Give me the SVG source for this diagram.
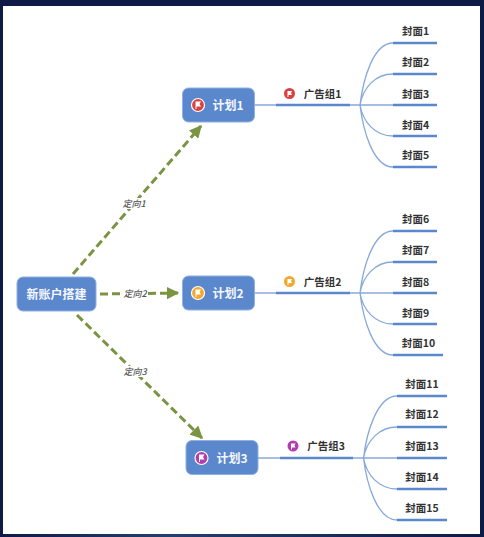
<svg xmlns="http://www.w3.org/2000/svg" width="484" height="537" viewBox="0 0 484 537">
<style>
.node{fill:#5b87cc;stroke:#8fb0e2;stroke-width:1}
.wt{font-family:"Noto Sans CJK SC","Liberation Sans",sans-serif;font-weight:700;fill:#f4f7fc;text-anchor:middle}
.lb{font-family:"Noto Sans CJK SC","Liberation Sans",sans-serif;font-weight:700;font-size:10.5px;fill:#333;text-anchor:middle}
.el{font-family:"Noto Sans CJK SC","Liberation Sans",sans-serif;font-style:italic;font-weight:500;font-size:9px;fill:#555;text-anchor:middle}
.dash{fill:none;stroke:#7a9444;stroke-width:3;stroke-dasharray:8 4}
.thin{fill:none;stroke:#86a9dc;stroke-width:1.3}
.bar{fill:none;stroke:#5b87cc;stroke-width:2.4}
.flag{fill:#fff}
</style>
<defs>
<linearGradient id="bg" x1="0" y1="0" x2="1" y2="0"><stop offset="0" stop-color="#0e1a46"/><stop offset="0.35" stop-color="#24406e"/><stop offset="1" stop-color="#0e1a46"/></linearGradient>
<marker id="ah" viewBox="0 0 10 10" refX="9" refY="5" markerWidth="4.2" markerHeight="4.2" orient="auto"><path d="M0 0L10 5L0 10Z" fill="#7a9444"/></marker>
</defs>
<rect width="484" height="537" fill="#0e1a46"/>
<rect y="530" width="484" height="7" fill="url(#bg)"/>
<rect x="3" y="6" width="477" height="528" fill="#fff"/>
<g id="connectors">
<path class="dash" marker-end="url(#ah)" d="M73 274L201 126"/>
<path class="dash" marker-end="url(#ah)" d="M100 294L178 293"/>
<path class="dash" marker-end="url(#ah)" d="M77 315L202 438"/>
<path class="thin" d="M254 105H276M350 105H393M360 105C363 80 373 43 393 43M360 105C363 88 375 74 393 74M360 105C363 122 375 136 393 136M360 105C363 130 373 167 393 167"/>
<path class="bar" d="M276 105H350M393 43H437M393 74H437M393 105H437M393 136H437M393 167H437"/>
<path class="thin" d="M254 293H276M350 293H393M360 293C363 268 373 231 393 231M360 293C363 276 375 262 393 262M360 293C363 310 375 324 393 324M360 293C363 318 373 355 393 355"/>
<path class="bar" d="M276 293H350M393 231H437M393 262H437M393 293H437M393 324H437M393 355H443"/>
<path class="thin" d="M258 458H280M353 458H397M363.500 458C366.500 433 377 396 397 396M363.500 458C366.500 441 379 427 397 427M363.500 458C366.500 475 379 489 397 489M363.500 458C366.500 483 377 520 397 520"/>
<path class="bar" d="M280 458H353M397 396H447M397 427H447M397 458H447M397 489H447M397 520H447"/>
</g>
<g id="edge-labels">
<rect x="122" y="198" width="25" height="11" fill="#fff"/><text class="el" x="134" y="207">定向1</text>
<rect x="122" y="288" width="25" height="11" fill="#fff"/><text class="el" x="135" y="297">定向2</text>
<rect x="123" y="366" width="25" height="11" fill="#fff"/><text class="el" x="135" y="375">定向3</text>
</g>
<g id="root"><rect class="node" x="17" y="277" width="79" height="34" rx="6"/><text class="wt" x="56.500" y="298.500" font-size="12">新账户搭建</text></g>
<g id="plan1"><rect class="node" x="182.500" y="88" width="72" height="34" rx="6"/><circle cx="198" cy="105" r="6.500" fill="#d9413f" stroke="#fff" stroke-width="1.200"/><path class="flag" d="M195.500 101.500H201L199.500 104L201 106.500H196.500V109H195.500Z"/><text class="wt" x="228" y="109.500" font-size="12">计划1</text></g>
<g id="plan2"><rect class="node" x="182.500" y="276" width="72" height="34" rx="6"/><circle cx="198" cy="293" r="6.500" fill="#f0a92e" stroke="#fff" stroke-width="1.200"/><path class="flag" d="M195.500 289.500H201L199.500 292L201 294.500H196.500V297H195.500Z"/><text class="wt" x="228" y="297.500" font-size="12">计划2</text></g>
<g id="plan3"><rect class="node" x="186" y="440.500" width="72" height="34" rx="6"/><circle cx="201.500" cy="458" r="6.500" fill="#b23eae" stroke="#fff" stroke-width="1.200"/><path class="flag" d="M199 454.500H204.500L203 457L204.500 459.500H200V462H199Z"/><text class="wt" x="232" y="462.500" font-size="12">计划3</text></g>
<g id="group1"><circle cx="289.500" cy="93.500" r="5.500" fill="#d9413f"/><path class="flag" d="M287.500 91H292L291 93L292 95H288.500V97H287.500Z"/><text class="lb" x="322.500" y="98">广告组1</text></g>
<g id="group2"><circle cx="289.500" cy="281.500" r="5.500" fill="#f0a92e"/><path class="flag" d="M287.500 279H292L291 281L292 283H288.500V285H287.500Z"/><text class="lb" x="322.500" y="286">广告组2</text></g>
<g id="group3"><circle cx="293" cy="446" r="5.500" fill="#b23eae"/><path class="flag" d="M291 443.500H295.500L294.500 445.500L295.500 447.500H292V449.500H291Z"/><text class="lb" x="326" y="450">广告组3</text></g>
<g id="covers">
<text class="lb" x="415.500" y="35">封面1</text><text class="lb" x="415.500" y="66">封面2</text><text class="lb" x="415.500" y="98">封面3</text><text class="lb" x="415.500" y="129">封面4</text><text class="lb" x="415.500" y="159">封面5</text>
<text class="lb" x="415.500" y="223">封面6</text><text class="lb" x="415.500" y="254">封面7</text><text class="lb" x="415.500" y="286">封面8</text><text class="lb" x="415.500" y="317">封面9</text><text class="lb" x="418.500" y="347">封面10</text>
<text class="lb" x="422" y="388">封面11</text><text class="lb" x="422" y="418">封面12</text><text class="lb" x="422" y="450">封面13</text><text class="lb" x="422" y="481">封面14</text><text class="lb" x="422" y="512">封面15</text>
</g>
</svg>
